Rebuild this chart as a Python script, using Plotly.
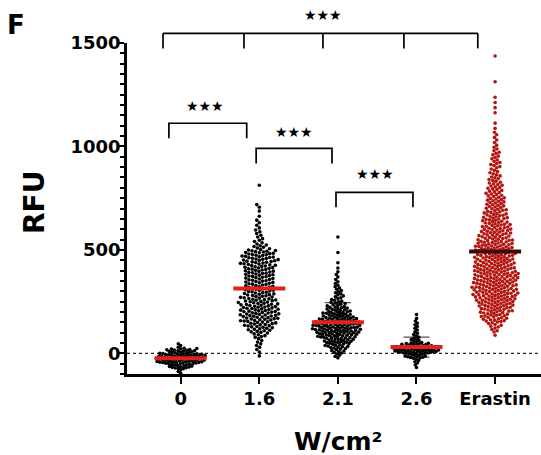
import math
import numpy as np
import plotly.graph_objects as go

# ---------------- data ----------------
categories = ["0", "1.6", "2.1", "2.6", "Erastin"]
bin_width = 25  # RFU, histogram bins
bin_start = [-100, -25, -25, -75, 75]   # lower edge of first bin per group

counts_0 = [3, 16, 30, 30, 18, 3]
counts_16 = [1, 2, 3, 3, 6, 10, 13, 15, 16, 16, 15, 14, 13, 12, 12, 12, 13, 13, 14,
             14, 13, 7, 4, 3, 3, 2, 2, 1, 1, 2, 0, 0, 0, 1]
counts_21 = [4, 8, 13, 17, 22, 26, 26, 22, 17, 13, 9, 6, 5, 4, 3, 2, 2, 1, 1, 0, 1,
             0, 0, 1]
counts_26 = [2, 4, 14, 30, 20, 7, 4, 3, 3, 2, 1]
counts_er = [1, 4, 6, 11, 13, 15, 17, 19, 20, 20, 20, 20, 20, 19, 18, 18, 18, 18, 16,
             14, 14, 13, 12, 11, 10, 9, 9, 8, 7, 7, 6, 5, 4, 5, 4, 4, 3, 2, 2, 2,
             1, 1, 0, 1, 1, 1, 1, 0, 0, 1, 0, 0, 0, 0, 1]
group_counts = [counts_0, counts_16, counts_21, counts_26, counts_er]
show_sd = [False, False, True, True, False]   # SD caps visible in the picture

# significance brackets: (x_left, x_right, y_top, y_drop) in data units
brackets = [(-0.15, 0.84, 1112, 1039), (0.96, 1.925, 991, 918), (1.976, 2.955, 778, 706)]
top_bracket_x = [-0.225, 0.805, 1.81, 2.84, 3.78]
top_bracket_y = (1547, 1474)
star_pos = [(1.81, 1634), (0.31, 1194), (1.44, 1068), (2.47, 865)]

# ---------------- layout constants ----------------
W, H = 541, 455
ML, MR, MT, MB = 127, 0, 43, 81
X0, X1 = -0.683, 4.584
Y0, Y1 = -100, 1500
PW, PH = W - ML - MR, H - MT - MB
px_per_x = PW / (X1 - X0)
px_per_y = PH / (Y1 - Y0)
swarm_gap = [2.95, 3.6, 3.05, 2.85, 3.4]   # collision distance (px) per swarm


def xp(x):
    return (x - X0) / (X1 - X0)


def yp(v):
    return (v - Y0) / (Y1 - Y0)


def expand(start, counts):
    vals = []
    for k, n in enumerate(counts):
        lo = start + k * bin_width
        for j in range(n):
            vals.append(lo + (j + 0.5) * bin_width / n)
    return np.array(vals)


def beeswarm(values, d):
    ys = values * px_per_y
    order = np.argsort(ys)
    xs = np.zeros(len(ys))
    placed = []
    for idx in order:
        y = ys[idx]
        placed = [p for p in placed if y - p[0] < d]
        cands = [0.0]
        for py, pxx in placed:
            dy = y - py
            dx = math.sqrt(max(d * d - dy * dy, 0.0))
            cands += [pxx + dx, pxx - dx]
        cands.sort(key=lambda c: (abs(c), c))
        chosen = 0.0
        for c in cands:
            ok = True
            for py, pxx in placed:
                if (c - pxx) ** 2 + (y - py) ** 2 < d * d - 1e-6:
                    ok = False
                    break
            if ok:
                chosen = c
                break
        xs[idx] = chosen
        placed.append((y, chosen))
    return xs / px_per_x


fig = go.Figure()

point_colors = ["#000000"] * 4 + ["#b3140f"]
mean_colors = ["#e3201b"] * 4 + ["#3d0808"]

groups = [expand(st, cnt) for st, cnt in zip(bin_start, group_counts)]

# SD error bars (under points)
for i, v in enumerate(groups):
    if not show_sd[i]:
        continue
    fig.add_trace(go.Scatter(
        x=[i], y=[v.mean()], mode="markers", marker=dict(size=0.1, color="rgba(0,0,0,0)"),
        error_y=dict(type="data", array=[v.std()], width=13, thickness=1.2, color="#555555"),
        showlegend=False, hoverinfo="skip"))

for i, v in enumerate(groups):
    off = beeswarm(v, swarm_gap[i])
    fig.add_trace(go.Scatter(
        x=i + off, y=v, mode="markers",
        marker=dict(size=3.6, color=point_colors[i], line=dict(width=0)),
        showlegend=False, hoverinfo="skip"))

half = 26 / px_per_x
for i, v in enumerate(groups):
    m = v.mean()
    fig.add_trace(go.Scatter(
        x=[i - half, i + half], y=[m, m], mode="lines",
        line=dict(color=mean_colors[i], width=4),
        showlegend=False, hoverinfo="skip"))

shapes = []
shapes.append(dict(type="line", xref="paper", yref="y", x0=0, x1=1, y0=0, y1=0,
                   line=dict(color="#222222", width=1.3, dash="dot"), layer="below"))
blk = dict(color="black", width=1.7)
for xl, xr, yt, yd in brackets:
    shapes.append(dict(type="path", xref="paper", yref="paper",
                       path=f"M {xp(xl)} {yp(yd)} L {xp(xl)} {yp(yt)} L {xp(xr)} {yp(yt)} L {xp(xr)} {yp(yd)}",
                       line=blk))
shapes.append(dict(type="line", xref="paper", yref="paper",
                   x0=xp(top_bracket_x[0]), x1=xp(top_bracket_x[-1]),
                   y0=yp(top_bracket_y[0]), y1=yp(top_bracket_y[0]), line=blk))
for xb in top_bracket_x:
    shapes.append(dict(type="line", xref="paper", yref="paper",
                       x0=xp(xb), x1=xp(xb), y0=yp(top_bracket_y[0]), y1=yp(top_bracket_y[1]),
                       line=blk))

FONT = "DejaVu Sans"
annotations = []
for sx, sy in star_pos:
    annotations.append(dict(x=xp(sx), y=yp(sy), xref="paper", yref="paper", text="★★★",
                            showarrow=False, xanchor="center", yanchor="middle",
                            font=dict(family=FONT, size=14, color="black")))


def pp(px, py):
    return (px - ML) / PW, (H - MB - py) / PH


ax, ay = pp(34, 203)
annotations.append(dict(x=ax, y=ay, xref="paper", yref="paper", text="RFU", textangle=-90,
                        showarrow=False, xanchor="center", yanchor="middle",
                        font=dict(family=FONT, size=28, color="black", weight="bold")))
ax, ay = pp(338, 441)
annotations.append(dict(x=ax, y=ay, xref="paper", yref="paper", text="W/cm²",
                        showarrow=False, xanchor="center", yanchor="middle",
                        font=dict(family=FONT, size=25, color="black", weight="bold")))
ax, ay = pp(16, 25)
annotations.append(dict(x=ax, y=ay, xref="paper", yref="paper", text="F",
                        showarrow=False, xanchor="center", yanchor="middle",
                        font=dict(family=FONT, size=26, color="black", weight="bold")))

fig.update_layout(
    width=W, height=H, margin=dict(l=ML, r=MR, t=MT, b=MB),
    paper_bgcolor="white", plot_bgcolor="white",
    shapes=shapes, annotations=annotations,
    xaxis=dict(range=[X0, X1], showgrid=False, zeroline=False, showline=True,
               linecolor="black", linewidth=2.5, ticks="outside", ticklen=7, tickwidth=2,
               tickcolor="black", tickmode="array", tickvals=list(range(len(categories))),
               ticktext=categories, ticklabelstandoff=0,
               tickfont=dict(family=FONT, size=18, color="black", weight="bold")),
    yaxis=dict(range=[Y0, Y1], showgrid=False, zeroline=False, showline=True,
               linecolor="black", linewidth=2.5, ticks="outside", ticklen=7, tickwidth=2,
               tickcolor="black", tickmode="array", tickvals=[0, 500, 1000, 1500],
               ticktext=["0", "500", "1000", "1500"], ticklabelstandoff=-7,
               minor=dict(dtick=50, tick0=0, ticks="outside", ticklen=4, tickwidth=1.5,
                          tickcolor="black", showgrid=False),
               tickfont=dict(family=FONT, size=18, color="black", weight="bold")),
)

fig.write_html("out.html")
